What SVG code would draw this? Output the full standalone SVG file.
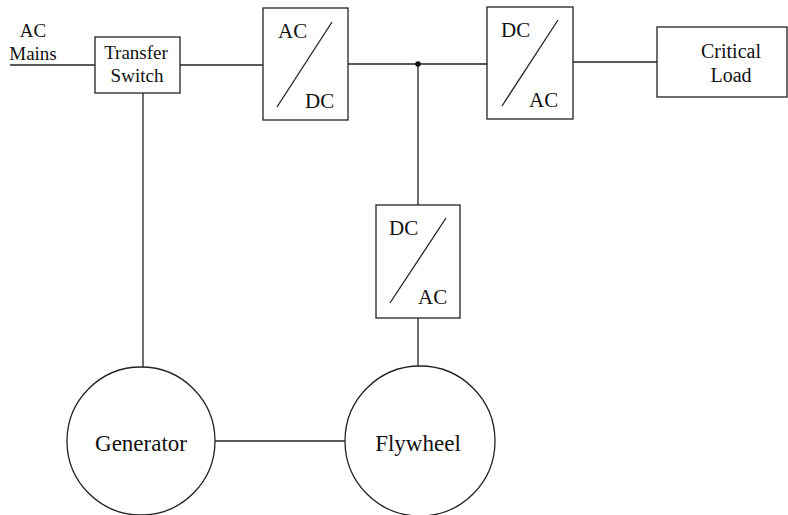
<svg xmlns="http://www.w3.org/2000/svg" width="788" height="515" viewBox="0 0 788 515">
<style>
.s{fill:none;stroke:#222;stroke-width:1.3}
.b{fill:#fff;stroke:#222;stroke-width:1.3}
text{font-family:"Liberation Serif","Times New Roman",serif;font-size:20px;fill:#111}
.c{text-anchor:middle}
.m{font-size:19px}
.l{font-size:23px}
.k{font-size:21px}
</style>
<rect width="788" height="515" fill="#fff"/>
<g id="connectors" class="s">
<line x1="10" y1="65" x2="95" y2="65"/>
<line x1="180" y1="65" x2="263" y2="65"/>
<line x1="348" y1="64" x2="487" y2="64"/>
<line x1="573" y1="62" x2="657" y2="62"/>
<line x1="143" y1="93" x2="143" y2="368"/>
<line x1="418" y1="64" x2="418" y2="205"/>
<line x1="418" y1="318" x2="418" y2="366"/>
<line x1="215" y1="441" x2="345" y2="441"/>
<circle cx="418" cy="64" r="2.8" fill="#111" stroke="none"/>
</g>
<g id="ac-mains">
<text x="33" y="37" class="c m">AC</text>
<text x="33" y="60" class="c m">Mains</text>
</g>
<g id="transfer-switch">
<rect x="95" y="37" width="85" height="56" class="b"/>
<text x="136" y="59" class="c m">Transfer</text>
<text x="137" y="82" class="c m">Switch</text>
</g>
<g id="rectifier">
<rect x="263" y="8" width="85" height="112" class="b"/>
<line x1="277" y1="107" x2="332" y2="22" class="s"/>
<text x="278" y="38" class="k">AC</text>
<text x="305" y="108" class="k">DC</text>
</g>
<g id="inverter">
<rect x="487" y="7" width="86" height="112" class="b"/>
<line x1="502" y1="106" x2="558" y2="20" class="s"/>
<text x="501" y="37" class="k">DC</text>
<text x="529" y="107" class="k">AC</text>
</g>
<g id="critical-load">
<rect x="657" y="27" width="130" height="70" class="b"/>
<text x="731" y="58" class="c">Critical</text>
<text x="731" y="82" class="c">Load</text>
</g>
<g id="flywheel-converter">
<rect x="376" y="205" width="84" height="113" class="b"/>
<line x1="390" y1="303" x2="446" y2="218" class="s"/>
<text x="389" y="235" class="k">DC</text>
<text x="418" y="304" class="k">AC</text>
</g>
<g id="generator">
<circle cx="141" cy="441" r="74" class="b"/>
<text x="141" y="451" class="c l">Generator</text>
</g>
<g id="flywheel">
<circle cx="420" cy="441" r="75" class="b"/>
<text x="418" y="451" class="c l">Flywheel</text>
</g>
</svg>
